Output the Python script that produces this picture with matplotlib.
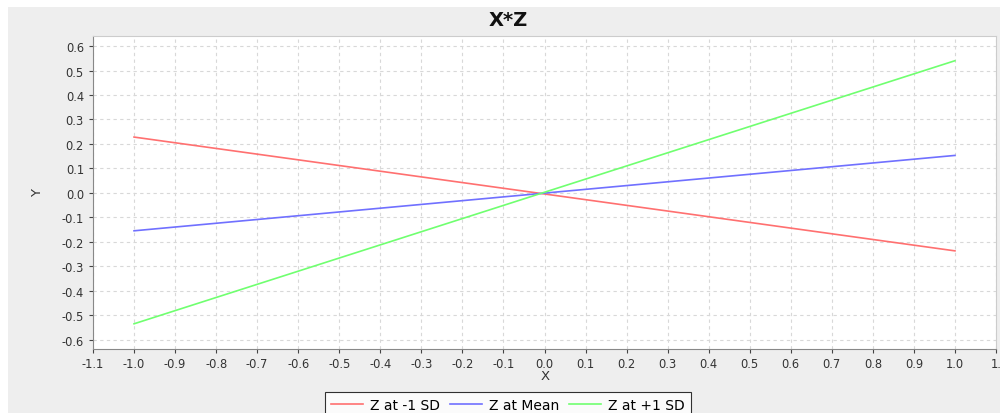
import matplotlib.pyplot as plt
from matplotlib.patches import Rectangle

# End points of the three simple slopes
x_vals = [-1.0, 1.0]
y_low = [0.228, -0.237]
y_mean = [-0.155, 0.153]
y_high = [-0.535, 0.540]

labels = ["Z at -1 SD", "Z at Mean", "Z at +1 SD"]
colors = ["#ff7070", "#7070ff", "#70ff70"]

x_ticks = [round(-1.1 + 0.1 * i, 1) for i in range(23)]
y_ticks = [round(-0.6 + 0.1 * i, 1) for i in range(13)]

W, H = 1000, 414
fig = plt.figure(figsize=(W / 100, H / 100), dpi=100, facecolor="white")

# grey panel background (the picture has a small white border top/left)
fig.patches.append(Rectangle((8 / W, 0), 1 - 8 / W, 1 - 8 / H,
                             transform=fig.transFigure, facecolor="#eeeeee",
                             edgecolor="none", zorder=-10))

ax = fig.add_axes([93 / W, 1 - 350 / H, (996 - 93) / W, (350 - 37) / H])
ax.set_facecolor("white")

for yv, lab, c in zip([y_low, y_mean, y_high], labels, colors):
    ax.plot(x_vals, yv, color=c, lw=1.2, label=lab)

ax.set_xlim(-1.1, 1.1)
ax.set_ylim(-0.638, 0.641)
ax.set_xticks(x_ticks)
ax.set_xticklabels([f"{v:.1f}" for v in x_ticks[:-1]] + ["1."])
ax.set_yticks(y_ticks)
ax.set_yticklabels([f"{v:.1f}" for v in y_ticks])
ax.tick_params(labelsize=8.3, colors="#444444", length=3, width=0.8,
               labelcolor="#333333")
ax.tick_params(axis="x", pad=2.5)
ax.grid(True, color="#d8d8d8", linestyle=(0, (3, 3)), linewidth=0.8)
ax.set_axisbelow(True)
for s in ["top", "right"]:
    ax.spines[s].set_color("#cccccc")
for s in ["left", "bottom"]:
    ax.spines[s].set_color("#888888")

fig.text(508 / W, 1 - 21 / H, "X*Z", ha="center", va="center",
         fontsize=14, fontweight="bold", color="#111111")
fig.text(545 / W, 1 - 377 / H, "X", ha="center", va="center",
         fontsize=9.5, color="#333333")
fig.text(38 / W, 1 - 193 / H, "Y", ha="center", va="center",
         fontsize=9.5, color="#333333", rotation=90)

leg = fig.legend(loc="upper center", bbox_to_anchor=(508 / W, 1 - 393 / H),
                 ncol=3, fontsize=10, frameon=True, fancybox=False,
                 handlelength=2.3, handletextpad=0.5, columnspacing=0.7,
                 borderpad=0.45, borderaxespad=0)
leg.get_frame().set_edgecolor("black")
leg.get_frame().set_linewidth(0.8)
leg.get_frame().set_facecolor("white")

fig.savefig("out.png", dpi=100)
